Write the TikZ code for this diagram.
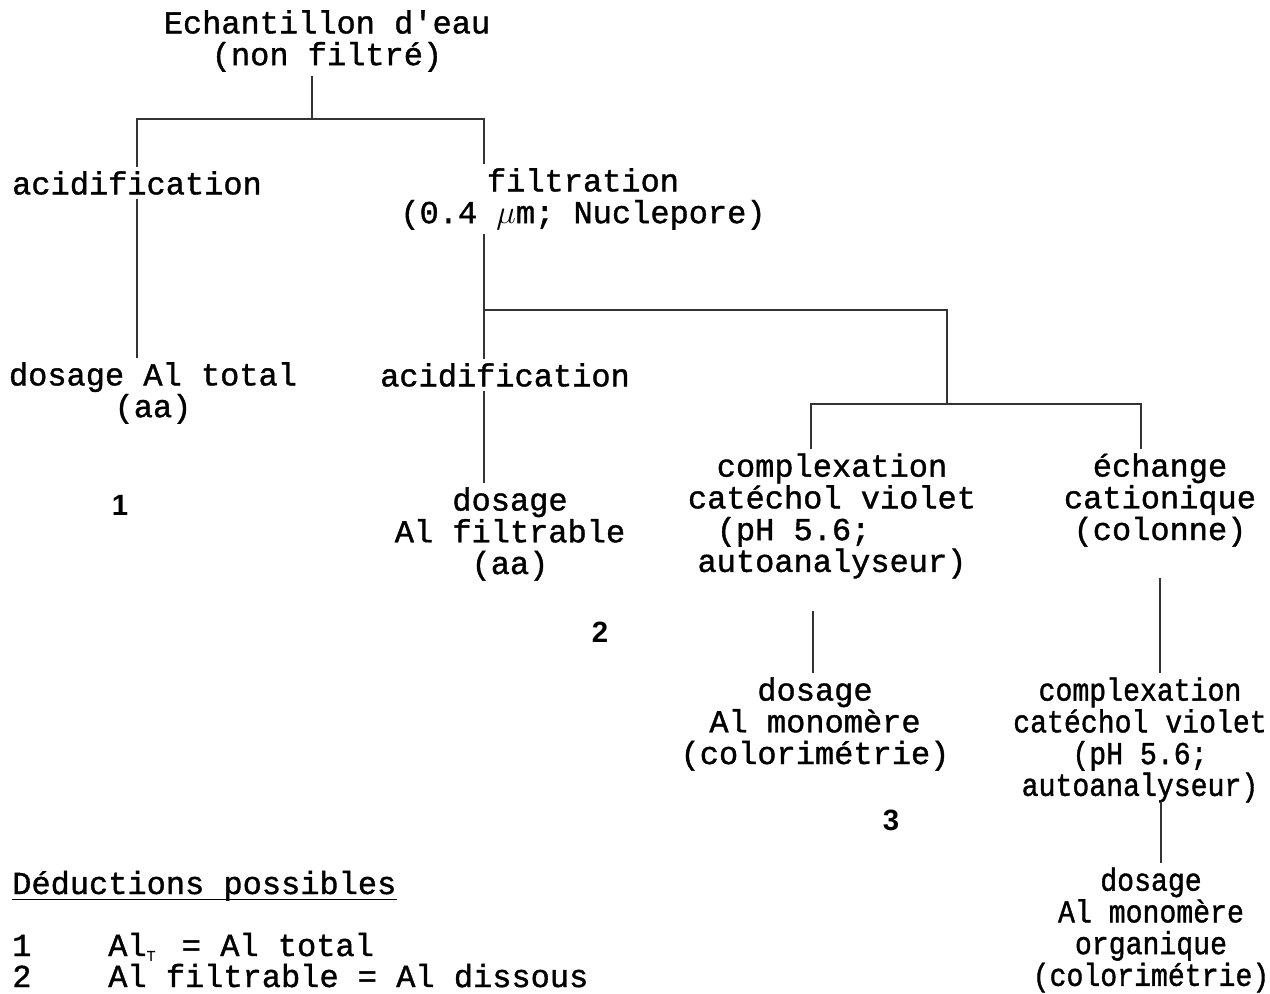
\documentclass[tikz,border=0pt]{standalone}
\usepackage{fontspec}
\setmonofont[FakeBold=1.2]{Liberation Mono}
\newfontfamily\monoserre[FakeStretch=0.88,FakeBold=1.2]{Liberation Mono}
\newfontfamily\chiffres{Liberation Sans}

\begin{document}
\begin{tikzpicture}[x=0.75pt, y=-0.75pt,
	etape/.style={
		% plain text, no border
		align=center,
		inner sep=3pt,
		% typewriter, as in the scan
		font=\ttfamily\fontsize{24}{23.8}\selectfont
		},
	etapeserre/.style={
		etape,
		% the right-hand column is set a bit narrower
		font=\monoserre\fontsize{24}{23.8}\selectfont
		},
	liste/.style={
		etape,
		inner sep=0pt,
		anchor=base west
		},
	numero/.style={
		inner sep=0pt,
		font=\chiffres\bfseries\fontsize{22}{22}\selectfont
		},
	trait/.style={
		line width=1.3pt,
		draw=black!80
		}]

	\useasboundingbox (0,0) rectangle (1270,994);

	% the tree
	\node (echantillon) [etape] at (327,41) {Echantillon d'eau\\(non filtré)};
	\node (acidif) [etape] at (137,183) {acidification};
	\node (filtration) [etape] at (583,199) {filtration\\(0.4 $\mu$m; Nuclepore)};
	\node (dosagetotal) [etape] at (153,393) {dosage Al total\\(aa)};
	\node (acidiffiltre) [etape] at (505,375) {acidification};
	\node (dosagefiltrable) [etape] at (510,534) {dosage\\Al filtrable\\(aa)};
	\node (complexA) [etape] at (832,516) {complexation\\catéchol violet\\(pH 5.6;\phantom{0000}\\autoanalyseur)};
	\node (echange) [etape] at (1160,500) {échange\\cationique\\(colonne)};
	\node (dosagemono) [etape] at (815,724) {dosage\\Al monomère\\(colorimétrie)};
	\node (complexB) [etapeserre] at (1140,740) {complexation\\catéchol violet\\(pH 5.6;\\autoanalyseur)};
	\node (dosagemonoorg) [etapeserre] at (1151,930) {dosage\\Al monomère\\organique\\(colorimétrie)};

	\node (numA) [numero] at (120,505) {1};
	\node (numB) [numero] at (600,632) {2};
	\node (numC) [numero] at (891,820) {3};

	% branch points
	\coordinate (jA) at (312,119);
	\coordinate (jB) at (484,310);
	\coordinate (jC) at (947,404);
	\coordinate (jD) at (811,404);
	\coordinate (jE) at (1141,404);
	\coordinate (monohaut) at (813,611);
	\coordinate (echangebas) at (1160,578);
	\coordinate (orghaut) at (1161,802);

	\draw[trait] (echantillon.south -| jA) -- (jA);
	\draw[trait] (acidif.north) |- (jA) -| (filtration.north -| jB);
	\draw[trait] (acidif.south) -- (dosagetotal.north -| acidif.south);
	\draw[trait] (filtration.south -| jB) -- (acidiffiltre.north -| jB);
	\draw[trait] (acidiffiltre.south -| jB) -- (dosagefiltrable.north -| jB);
	\draw[trait] (jB) -| (jC);
	\draw[trait] (complexA.north -| jD) |- (jC) -| (echange.north -| jE);
	\draw[trait] (monohaut) -- (dosagemono.north -| monohaut);
	\draw[trait] (echangebas) -- (complexB.north -| echangebas);
	\draw[trait] (orghaut) -- (dosagemonoorg.north -| orghaut);

	% deductions
	\node (deductions) [liste] at (12,894) {Déductions possibles};
	\draw[line width=1pt] ([yshift=-4pt]deductions.base west) -- ([yshift=-4pt]deductions.base east);
	\node (dedAnum) [liste] at (12,956) {1};
	\node (dedAtxt) [liste] at (108,956) {Al\makebox[12pt][l]{\raisebox{-3.5pt}{\fontsize{11}{11}\selectfont T}} = Al total};
	\node (dedBnum) [liste] at (12,987) {2};
	\node (dedBtxt) [liste] at (108,987) {Al filtrable = Al dissous};

\end{tikzpicture}
\end{document}
